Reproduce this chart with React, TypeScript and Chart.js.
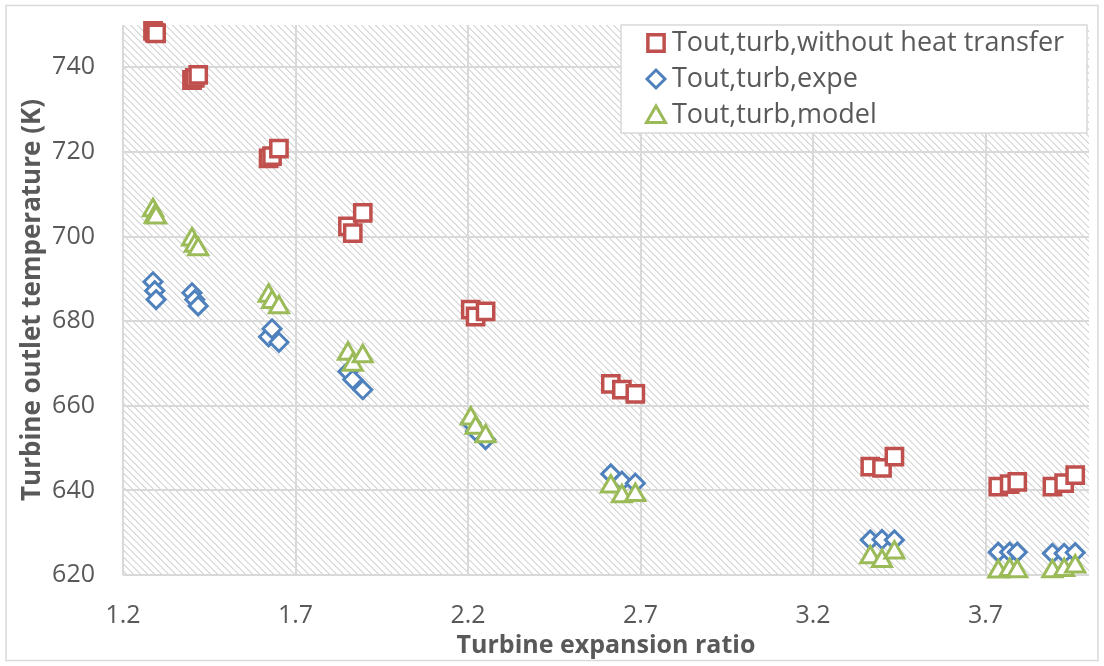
import React, { useEffect, useRef } from 'react';
import { Chart, registerables } from 'chart.js';

Chart.register(...registerables);

// ---- data ----
const expansionRatio = [
  1.287, 1.292, 1.296,
  1.400, 1.408, 1.418,
  1.622, 1.632, 1.652,
  1.852, 1.866, 1.895,
  2.208, 2.222, 2.251,
  2.614, 2.646, 2.685,
  3.366, 3.400, 3.436,
  3.737, 3.770, 3.792,
  3.894, 3.928, 3.960,
];
const toutWithoutHeatTransfer = [
  748.6, 748.2, 748.0,
  737.0, 737.5, 738.2,
  718.5, 719.0, 720.8,
  702.4, 700.8, 705.6,
  682.7, 681.1, 682.3,
  665.2, 663.8, 662.8,
  645.6, 645.3, 648.0,
  640.9, 641.5, 642.0,
  640.9, 641.7, 643.6,
];
const toutExpe = [
  689.3, 687.2, 685.1,
  686.7, 685.1, 683.6,
  676.3, 678.2, 675.0,
  668.1, 666.2, 663.8,
  656.0, 654.0, 652.0,
  643.9, 642.2, 641.7,
  628.3, 628.4, 628.3,
  625.4, 625.4, 625.4,
  625.1, 625.1, 625.3,
];
const toutModel = [
  706.2, 704.7, 704.5,
  699.3, 697.8, 697.0,
  686.0, 684.5, 683.3,
  672.3, 669.7, 671.7,
  657.0, 654.8, 652.8,
  640.9, 638.6, 638.9,
  624.2, 623.3, 625.3,
  620.8, 621.2, 620.9,
  620.9, 621.2, 622.0,
];
const seriesNames = [
  'Tout,turb,without heat transfer',
  'Tout,turb,expe',
  'Tout,turb,model',
];
const xTicks = [1.2, 1.7, 2.2, 2.7, 3.2, 3.7];
const yTicks = [620, 640, 660, 680, 700, 720, 740];
const xTitle = 'Turbine expansion ratio';
const yTitle = 'Turbine outlet temperature (K)';

const RED = '#C0504D';
const BLUE = '#4F81BD';
const GREEN = '#9BBB59';
const TEXT = '#595959';
const GRID = '#d9d9d9';
const FONT = "'Open Sans', 'Noto Sans', sans-serif";

const RECT_R = 11.5;
const RECT_W = 3.5;
const DIAMOND_R = 9;
const DIAMOND_W = 3;
const TRI_R = 11;
const TRI_W = 3;

function pts(ys: number[]) {
  return ys.map((y, i) => ({ x: expansionRatio[i], y }));
}

function drawMarker(ctx: CanvasRenderingContext2D, style: string, x: number, y: number, color: string) {
  ctx.save();
  ctx.strokeStyle = color;
  ctx.fillStyle = '#ffffff';
  ctx.beginPath();
  if (style === 'rect') {
    const r = RECT_R * Math.SQRT1_2;
    ctx.lineWidth = RECT_W;
    ctx.rect(x - r, y - r, 2 * r, 2 * r);
  } else if (style === 'rectRot') {
    const r = DIAMOND_R;
    ctx.lineWidth = DIAMOND_W;
    ctx.moveTo(x - r, y);
    ctx.lineTo(x, y - r);
    ctx.lineTo(x + r, y);
    ctx.lineTo(x, y + r);
    ctx.closePath();
  } else {
    const r = TRI_R;
    ctx.lineWidth = TRI_W;
    ctx.moveTo(x, y - r);
    ctx.lineTo(x + r * Math.sin((2 * Math.PI) / 3), y - r * Math.cos((2 * Math.PI) / 3));
    ctx.lineTo(x + r * Math.sin((4 * Math.PI) / 3), y - r * Math.cos((4 * Math.PI) / 3));
    ctx.closePath();
  }
  ctx.fill();
  ctx.stroke();
  ctx.restore();
}

export default function App() {
  const ref = useRef<HTMLCanvasElement>(null);

  useEffect(() => {
    document.body.style.margin = '0';
    const canvas = ref.current;
    if (!canvas) return;

    const hatch = document.createElement('canvas');
    hatch.width = 7;
    hatch.height = 7;
    const hctx = hatch.getContext('2d')!;
    hctx.fillStyle = '#ffffff';
    hctx.fillRect(0, 0, 7, 7);
    for (let i = 0; i < 7; i++) {
      hctx.fillStyle = '#d6d6d6';
      hctx.fillRect(i, i, 1, 1);
      hctx.fillStyle = '#e6e6e6';
      hctx.fillRect((i + 1) % 7, i, 1, 1);
    }

    const backgroundPlugin = {
      id: 'hatchBackground',
      beforeDraw(chart: any) {
        const { ctx, chartArea } = chart;
        ctx.save();
        ctx.fillStyle = '#ffffff';
        ctx.fillRect(0, 0, chart.width, chart.height);
        const pattern = ctx.createPattern(hatch, 'repeat');
        ctx.fillStyle = pattern;
        ctx.fillRect(chartArea.left, chartArea.top, chartArea.right - chartArea.left, chartArea.bottom - chartArea.top);
        ctx.restore();
      },
    };

    const legendPlugin = {
      id: 'boxLegend',
      afterDraw(chart: any) {
        const { ctx, chartArea } = chart;
        const bw = 466;
        const bh = 108;
        const bx = chartArea.right - 2 - bw;
        const by = chartArea.top;
        ctx.save();
        ctx.fillStyle = '#ffffff';
        ctx.fillRect(bx, by, bw, bh);
        ctx.strokeStyle = GRID;
        ctx.lineWidth = 1.5;
        ctx.strokeRect(bx, by, bw, bh);
        const styles = ['rect', 'rectRot', 'triangle'];
        const colors = [RED, BLUE, GREEN];
        ctx.font = `27px ${FONT}`;
        ctx.textBaseline = 'middle';
        ctx.textAlign = 'left';
        seriesNames.forEach((name, i) => {
          const cy = by + 18 + i * 36;
          drawMarker(ctx, styles[i], bx + 35, cy + (i === 2 ? 2 : 0), colors[i]);
          ctx.fillStyle = TEXT;
          ctx.fillText(name, bx + 51, cy);
        });
        // outer chart border
        ctx.strokeStyle = GRID;
        ctx.lineWidth = 1.5;
        ctx.strokeRect(6, 5.5, chart.width - 12, chart.height - 11);
        ctx.restore();
      },
    };

    const chart = new Chart(canvas, {
      type: 'scatter',
      data: {
        datasets: [
          {
            label: seriesNames[0],
            data: pts(toutWithoutHeatTransfer),
            pointStyle: 'rect',
            pointRadius: RECT_R,
            borderWidth: RECT_W,
            borderColor: RED,
            backgroundColor: '#ffffff',
            clip: false,
            order: 2,
          },
          {
            label: seriesNames[1],
            data: pts(toutExpe),
            pointStyle: 'rectRot',
            pointRadius: DIAMOND_R,
            borderWidth: DIAMOND_W,
            borderColor: BLUE,
            backgroundColor: '#ffffff',
            clip: false,
            order: 1,
          },
          {
            label: seriesNames[2],
            data: pts(toutModel),
            pointStyle: 'triangle',
            pointRadius: TRI_R,
            borderWidth: TRI_W,
            borderColor: GREEN,
            backgroundColor: '#ffffff',
            clip: false,
            order: 0,
          },
        ],
      },
      options: {
        animation: false,
        responsive: false,
        devicePixelRatio: 1,
        layout: { padding: { left: 0, top: 25, right: 14, bottom: 0 } },
        plugins: {
          legend: { display: false },
          tooltip: { enabled: false },
        },
        scales: {
          x: {
            type: 'linear',
            min: 1.2,
            max: 4.0,
            afterBuildTicks: (s: any) => {
              s.ticks = xTicks.map((v) => ({ value: v }));
            },
            afterFit: (s: any) => {
              s.height = 91;
              s.paddingLeft = 0;
              s.paddingRight = 0;
            },
            grid: { color: GRID, lineWidth: 2, drawTicks: false },
            border: { display: false },
            ticks: {
              color: TEXT,
              font: { family: FONT, size: 25 },
              padding: 26,
              callback: (v: any) => String(v),
            },
            title: {
              display: true,
              text: xTitle,
              color: TEXT,
              font: { family: FONT, size: 25, weight: 'bold' },
              padding: { top: 0, bottom: 5 },
            },
          },
          y: {
            type: 'linear',
            min: 620,
            max: 750,
            afterBuildTicks: (s: any) => {
              s.ticks = yTicks.map((v) => ({ value: v }));
            },
            afterFit: (s: any) => {
              s.width = 123;
              s.paddingTop = 0;
              s.paddingBottom = 0;
            },
            grid: { color: GRID, lineWidth: 2, drawTicks: false },
            border: { display: false },
            ticks: {
              color: TEXT,
              font: { family: FONT, size: 25 },
              padding: 28,
              callback: (v: any) => String(v),
            },
            title: {
              display: true,
              text: yTitle,
              color: TEXT,
              font: { family: FONT, size: 26, weight: 'bold' },
              padding: { top: 17, bottom: 0 },
            },
          },
        },
      },
      plugins: [backgroundPlugin, legendPlugin],
    } as any);

    return () => chart.destroy();
  }, []);

  return (
    <div style={{ width: 1104, height: 666, position: 'relative' }}>
      <canvas ref={ref} width={1104} height={666} style={{ display: 'block' }} />
    </div>
  );
}
